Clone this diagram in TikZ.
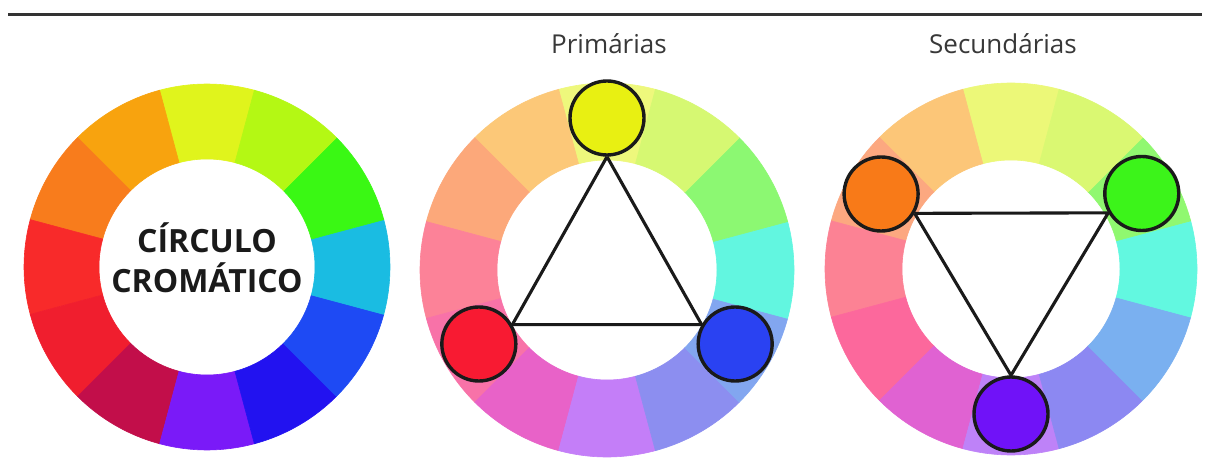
\documentclass[tikz,border=0pt]{standalone}
\usepackage{fontspec}
\setmainfont{Open Sans}
\definecolor{aA}{HTML}{E0F41C}\definecolor{aB}{HTML}{F8A30E}\definecolor{aC}{HTML}{F87C1C}
\definecolor{aD}{HTML}{F82A2A}\definecolor{aE}{HTML}{F01E2E}\definecolor{aF}{HTML}{C20E4A}
\definecolor{aG}{HTML}{7A1AF8}\definecolor{aH}{HTML}{2212F0}\definecolor{aI}{HTML}{1E4AF4}
\definecolor{aJ}{HTML}{1ABCE2}\definecolor{aK}{HTML}{3AF814}\definecolor{aL}{HTML}{B4F814}
\definecolor{bA}{HTML}{EEF87C}\definecolor{bB}{HTML}{FCC878}\definecolor{bC}{HTML}{FCA87A}
\definecolor{bD}{HTML}{FC8298}\definecolor{bE}{HTML}{F872A8}\definecolor{bF}{HTML}{E862C8}
\definecolor{bG}{HTML}{C47EF8}\definecolor{bH}{HTML}{8C8EF0}\definecolor{bI}{HTML}{82A6F0}
\definecolor{bJ}{HTML}{62F6E0}\definecolor{bK}{HTML}{8CF872}\definecolor{bL}{HTML}{D6F872}
\definecolor{cA}{HTML}{ECF878}\definecolor{cB}{HTML}{FCC678}\definecolor{cC}{HTML}{FCA880}
\definecolor{cD}{HTML}{FC8294}\definecolor{cE}{HTML}{FC689C}\definecolor{cF}{HTML}{E062D2}
\definecolor{cG}{HTML}{BE82F8}\definecolor{cH}{HTML}{8C88F2}\definecolor{cI}{HTML}{7AB0F0}
\definecolor{cJ}{HTML}{62F8E0}\definecolor{cK}{HTML}{90F870}\definecolor{cL}{HTML}{DAF872}
\definecolor{dotY}{HTML}{E8F012}\definecolor{dotR}{HTML}{F81A32}\definecolor{dotB}{HTML}{2A42F2}
\definecolor{dotO}{HTML}{F87A18}\definecolor{dotG}{HTML}{3CF41A}\definecolor{dotP}{HTML}{7012F8}
\definecolor{ink}{HTML}{1A1A1A}
\begin{document}
\begin{tikzpicture}[x=1pt,y=1pt,
  dot/.style={circle, draw=ink, line width=3.4pt, minimum size=74pt, inner sep=0pt},
  tri/.style={line width=3.1pt, draw=ink},
  lbl/.style={font=\fontsize{26}{30}\selectfont, text=black!78, anchor=base},
  big/.style={font=\bfseries\fontsize{32}{38}\selectfont, text=ink, anchor=base}]
\fill[white] (0,0) rectangle (1206,466);
\useasboundingbox (0,0) rectangle (1206,466);
\draw[line width=3pt, black!80] (8,451) -- (1202,451);
% wheel 1
\begin{scope}[shift={(207,199)}]
\foreach \a/\c in {90/aA,120/aB,150/aC,180/aD,210/aE,240/aF,270/aG,300/aH,330/aI,0/aJ,30/aK,60/aL}{
  \pgfmathsetmacro\s{\a-15}\pgfmathsetmacro\e{\a+15}
  \fill[\c, draw=\c, line width=0.6pt] (\s:183) arc[start angle=\s, end angle=\e, radius=183] -- (\e:108) arc[start angle=\e, end angle=\s, radius=108] -- cycle;
}
\end{scope}
\node[big] (t1) at (207,213) {CÍRCULO};
\node[big] (t2) at (207,173) {CROMÁTICO};
% wheel 2
\begin{scope}[shift={(607,196)}]
\foreach \a/\c in {90/bA,120/bB,150/bC,180/bD,210/bE,240/bF,270/bG,300/bH,330/bI,0/bJ,30/bK,60/bL}{
  \pgfmathsetmacro\s{\a-15}\pgfmathsetmacro\e{\a+15}
  \fill[\c, draw=\c, line width=0.6pt] (\s:187) arc[start angle=\s, end angle=\e, radius=187] -- (\e:110) arc[start angle=\e, end angle=\s, radius=110] -- cycle;
}
\node[dot, fill=dotY] (py) at (90:152) {};
\node[dot, fill=dotR] (pr) at (210:148) {};
\node[dot, fill=dotB] (pb) at (330:148) {};
\end{scope}
\draw[tri] (py.south) -- (pr.30) -- (pb.150) -- (py.south);
\node[lbl] (tp) at (609,412) {Primárias};
% wheel 3
\begin{scope}[shift={(1011,197)}]
\foreach \a/\c in {90/cA,120/cB,150/cC,180/cD,210/cE,240/cF,270/cG,300/cH,330/cI,0/cJ,30/cK,60/cL}{
  \pgfmathsetmacro\s{\a-15}\pgfmathsetmacro\e{\a+15}
  \fill[\c, draw=\c, line width=0.6pt] (\s:186) arc[start angle=\s, end angle=\e, radius=186] -- (\e:109) arc[start angle=\e, end angle=\s, radius=109] -- cycle;
}
\node[dot, fill=dotO] (po) at (150:150) {};
\node[dot, fill=dotG] (pg) at (30:151) {};
\node[dot, fill=dotP] (pp) at (270:145) {};
\end{scope}
\draw[tri] (po.-30) -- (pg.210) -- (pp.north) -- (po.-30);
\node[lbl] (ts) at (1003,412) {Secundárias};
\end{tikzpicture}
\end{document}
